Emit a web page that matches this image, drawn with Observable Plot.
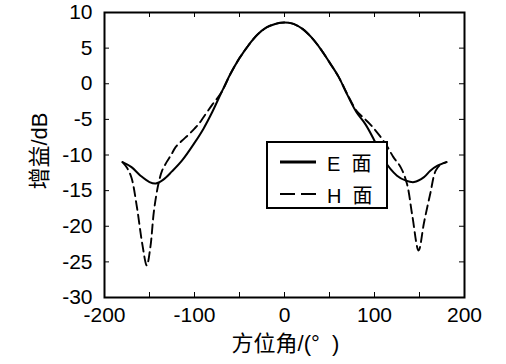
<!DOCTYPE html>
<html>
<head>
<meta charset="utf-8">
<script src="https://cdn.jsdelivr.net/npm/d3@7"></script>
<script src="https://cdn.jsdelivr.net/npm/@observablehq/plot@0.6"></script>
<style>
  html, body { margin: 0; padding: 0; background: #fff; }
  #wrap { position: relative; width: 506px; height: 364px; overflow: hidden; }
  #legend { position: absolute; left: 266px; top: 141px; width: 118px; height: 64px;
    border: 2px solid #000; background: #fff; font-family: "Liberation Sans", "Noto Sans CJK SC", sans-serif; font-size: 20px; }
  .row { position: absolute; left: 12px; height: 24px; display: flex; align-items: center; }
  .row span { margin-left: 11px; }
</style>
</head>
<body>
<div id="wrap"></div>
<script>
// ---- data ----
const angleE = [-180,-170,-160,-150,-143,-135,-125,-114,-100,-90,-80,-70,-60,-50,-40,-30,-20,-10,-5,0,5,10,20,30,40,50,60,70,80,90,100,110,125,135,144,155,162,170,180];
const gainE  = [-11.0,-11.7,-12.9,-13.8,-14.0,-13.5,-12.3,-10.8,-8.3,-6.3,-3.9,-1.2,1.4,3.6,5.4,6.9,7.9,8.4,8.55,8.6,8.55,8.4,7.7,6.5,4.9,3.0,1.0,-1.6,-4.0,-5.7,-8.0,-10.6,-12.9,-13.6,-13.8,-13.1,-12.2,-11.5,-11.0];

const angleH = [-180,-175,-170,-164,-158,-153,-149,-145,-140,-136,-131,-126,-121,-114,-107,-100,-95,-90,-80,-70,-60,-50,-40,-30,-20,-10,-5,0,5,10,20,30,40,50,60,70,80,88,96,107,115,121,129,136,142,149,155,162,168,174,180];
const gainH  = [-11.0,-11.8,-13.2,-17.3,-22.5,-25.5,-22.9,-17.8,-14.0,-12.2,-11.0,-10.0,-8.9,-8.0,-7.2,-6.3,-5.6,-4.7,-2.9,-1.2,1.4,3.6,5.4,6.9,7.9,8.4,8.55,8.6,8.55,8.4,7.7,6.5,4.9,3.0,1.0,-1.5,-3.8,-4.8,-5.8,-7.5,-9.0,-10.3,-11.7,-14.0,-18.5,-23.4,-19.5,-15.4,-12.2,-11.3,-11.0];

const xLabels = [-200,-100,0,100,200];
const xTicks  = [-150,-100,-50,0,50,100,150];
const yTicks  = [-30,-25,-20,-15,-10,-5,0,5,10];
const yInner  = [-25,-20,-15,-10,-5,0,5];
const seriesNames = ["E 面", "H 面"];
const xTitle = "方位角/(°\u00a0\u00a0)";
const yTitle = "增益/dB";

const E = angleE.map((a, i) => ({angle: a, gain: gainE[i]}));
const H = angleH.map((a, i) => ({angle: a, gain: gainH[i]}));

const W = 506, Ht = 364;
const mL = 104, mR = 42, mT = 12, mB = 67;
const pw = W - mL - mR, ph = Ht - mT - mB;
const font = "'Liberation Sans', 'Noto Sans CJK SC', sans-serif";

const chart = Plot.plot({
  width: W, height: Ht,
  marginLeft: mL, marginRight: mR, marginTop: mT, marginBottom: mB,
  style: {fontFamily: font, fontSize: "21px", background: "#fff", color: "#000"},
  x: {domain: [-200, 200]},
  y: {domain: [-30, 10]},
  marks: [
    Plot.line(H, {x: "angle", y: "gain", curve: "catmull-rom", stroke: "#000", strokeWidth: 1.9, strokeDasharray: "9,5"}),
    Plot.line(E, {x: "angle", y: "gain", curve: "catmull-rom", stroke: "#000", strokeWidth: 2}),
    // inward ticks
    Plot.tickX(xTicks, {x: d => d, stroke: "#000", strokeWidth: 1, insetTop: ph - 5}),
    Plot.tickX(xTicks, {x: d => d, stroke: "#000", strokeWidth: 1, insetBottom: ph - 5}),
    Plot.tickY(yInner, {y: d => d, stroke: "#000", strokeWidth: 1, insetRight: pw - 5}),
    Plot.tickY(yInner, {y: d => d, stroke: "#000", strokeWidth: 1, insetLeft: pw - 5}),
    Plot.axisX(xLabels, {tickSize: 0, tickPadding: 10, fontSize: 21, label: null, tickFormat: d => String(d)}),
    Plot.axisY(yTicks, {tickSize: 0, tickPadding: 12, fontSize: 21, label: null, tickFormat: d => String(d)}),
    Plot.frame({stroke: "#000", strokeWidth: 2}),
    Plot.text([xTitle], {text: d => d, frameAnchor: "bottom", textAnchor: "middle", lineAnchor: "middle", dy: 46, dx: 1, fontSize: 22, fill: "#000"}),
    Plot.text([yTitle], {text: d => d, frameAnchor: "left", textAnchor: "middle", lineAnchor: "middle", rotate: -90, dx: -65, dy: -4, fontSize: 22, fill: "#000"})
  ]
});
const wrap = document.getElementById("wrap");
wrap.appendChild(chart);

// legend (HTML overlay)
const legend = document.createElement("div");
legend.id = "legend";
const styles = [{dash: null, w: 3}, {dash: "15,6", w: 2}];
seriesNames.forEach((name, i) => {
  const row = document.createElement("div");
  row.className = "row";
  row.style.top = (i === 0 ? 7 : 39) + "px";
  const s = styles[i];
  row.innerHTML = `<svg width="36" height="10"><line x1="0" y1="5" x2="36" y2="5" stroke="#000" stroke-width="${s.w}" ${s.dash ? `stroke-dasharray="${s.dash}"` : ""}/></svg><span>${name.replace(" ", "&nbsp;&nbsp;")}</span>`;
  legend.appendChild(row);
});
wrap.appendChild(legend);
</script>
</body>
</html>
